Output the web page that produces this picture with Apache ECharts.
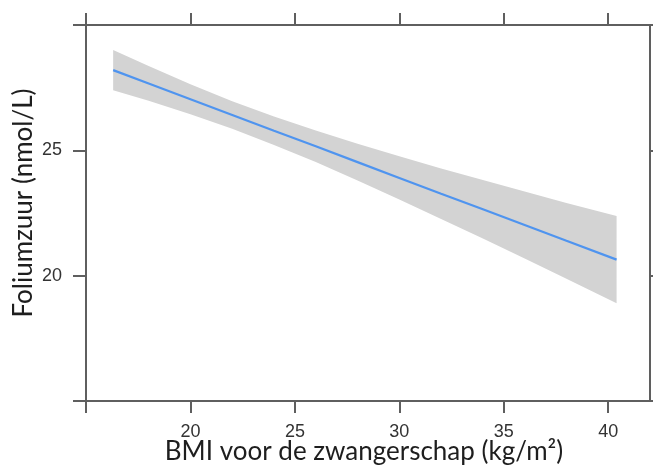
<!DOCTYPE html>
<html>
<head>
<meta charset="utf-8">
<script src="https://cdn.jsdelivr.net/npm/echarts@6/dist/echarts.min.js"></script>
<style>
  html, body { margin: 0; padding: 0; background: #fff; }
  #chart { width: 655px; height: 471px; }
</style>
</head>
<body>
<div id="chart"></div>
<script>
// BMI (x) and the fitted folate line with its confidence band
var bmi   = [16.3, 18, 20, 22, 24, 26, 28, 30, 32, 34, 36, 38, 40.4];
var fit   = [28.20, 27.67, 27.04, 26.41, 25.78, 25.16, 24.53, 23.90, 23.27, 22.65, 22.02, 21.39, 20.64];
var lower = [27.40, 26.98, 26.44, 25.86, 25.21, 24.53, 23.80, 23.04, 22.26, 21.48, 20.68, 19.88, 18.90];
var upper = [29.00, 28.36, 27.64, 26.96, 26.35, 25.79, 25.26, 24.76, 24.28, 23.82, 23.36, 22.90, 22.38];

var xTicks  = [15, 20, 25, 30, 35, 40];
var xLabels = [20, 25, 30, 35, 40];
var yTicks  = [15, 20, 25, 30];
var yLabels = [20, 25];

var lineCol = '#5f5f5f';
var labelFont = { fontSize: 18, color: '#333', fontFamily: 'Liberation Sans' };

var chart = echarts.init(document.getElementById('chart'));

function xAx (pos, showLabel) {
  return {
    type: 'value', position: pos, min: 15, max: 42, interval: 5,
    axisLine: { show: true, onZero: false, lineStyle: { color: lineCol, width: 2 } },
    axisTick: { show: true, inside: false, length: 12, customValues: xTicks, lineStyle: { color: lineCol, width: 2 } },
    axisLabel: Object.assign({ show: showLabel, margin: 22, customValues: xLabels }, labelFont),
    splitLine: { show: false }
  }
}
function yAx (pos, tickLen, showLabel) {
  return {
    type: 'value', position: pos, min: 15, max: 30, interval: 5,
    axisLine: { show: true, onZero: false, lineStyle: { color: lineCol, width: 2 } },
    axisTick: { show: true, inside: false, length: tickLen, customValues: yTicks, lineStyle: { color: lineCol, width: 2 } },
    axisLabel: Object.assign({ show: showLabel, margin: 24, customValues: yLabels }, labelFont),
    splitLine: { show: false }
  }
}

chart.setOption({
  animation: false,
  grid: { left: 86, right: 5, top: 25, bottom: 70 },
  xAxis: [xAx('bottom', true), xAx('top', false)],
  yAxis: [yAx('left', 13, true), yAx('right', 3, false)],
  graphic: [
    { type: 'text', x: 364, y: 452,
      style: { text: 'BMI voor de zwangerschap (kg/m\u00b2)', font: '26px Lato', fill: '#1e1e1e', align: 'center', verticalAlign: 'middle' } },
    { type: 'text', x: 24, y: 203, rotation: Math.PI / 2,
      style: { text: 'Foliumzuur (nmol/L)', font: '26px Lato', fill: '#1e1e1e', align: 'center', verticalAlign: 'middle' } }
  ],
  series: [
    {
      type: 'custom',
      data: [[bmi[0], fit[0]]],
      renderItem: function (params, api) {
        var pts = [];
        for (var i = 0; i < bmi.length; i++) pts.push(api.coord([bmi[i], upper[i]]));
        for (var j = bmi.length - 1; j >= 0; j--) pts.push(api.coord([bmi[j], lower[j]]));
        return { type: 'polygon', shape: { points: pts }, style: { fill: '#d3d3d3' } };
      },
      z: 1
    },
    {
      type: 'line',
      data: bmi.map(function (x, i) { return [x, fit[i]] }),
      symbol: 'none',
      lineStyle: { color: '#4f94ef', width: 2.2 },
      z: 2
    }
  ]
});
</script>
</body>
</html>
